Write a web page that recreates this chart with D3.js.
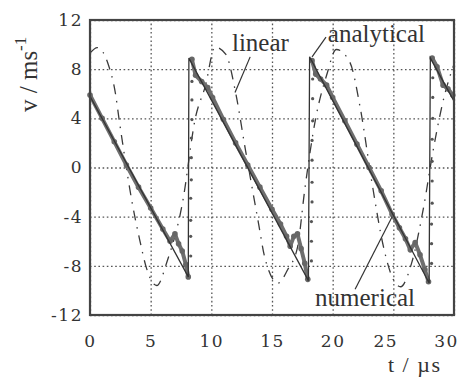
<!DOCTYPE html>
<html>
<head>
<meta charset="utf-8">
<script src="https://cdn.jsdelivr.net/npm/d3@7"></script>
<style>
  body { margin: 0; background: #fff; }
  svg text { font-family: "Liberation Serif", "Times New Roman", serif; fill: #333; }
  svg .tick text { font-family: "DejaVu Serif", serif; }
</style>
</head>
<body>
<div class="canvas"></div>
<script>
// data (t in µs, v in m/s)
const xTicks = [0, 5, 10, 15, 20, 25, 30];
const yTicks = [-12, -8, -4, 0, 4, 8, 12];

const analyticalT = [0, 8.1, 8.15, 18.0, 18.1, 27.95, 28.05, 30];
const analyticalV = [5.8, -8.9, 8.9, -9.2, 9.0, -9.4, 8.9, 5.4];

// numerical result, one array per branch between jumps
const numericalT = [
  [0, 1, 2, 3, 4, 5, 6, 6.6, 7.0, 7.3, 7.6, 7.9, 8.1],
  [8.4, 8.7, 9.2, 9.7, 10.1, 11, 12, 13, 14, 15, 15.7, 16.2, 16.5, 16.8, 17.1, 17.4, 17.7, 17.95],
  [18.3, 18.6, 19.0, 19.5, 20.0, 21, 22, 23, 24, 24.9, 25.5, 26.0, 26.4, 26.8, 27.2, 27.6, 27.9],
  [28.2, 28.6, 29.1, 29.5, 29.9]
];
const numericalV = [
  [5.9, 4.0, 2.1, 0.2, -1.6, -3.3, -5.0, -6.0, -5.4, -6.2, -6.8, -7.9, -8.9],
  [8.8, 7.5, 7.0, 6.5, 5.7, 3.9, 2.0, 0.2, -1.6, -3.4, -4.6, -5.6, -6.4, -5.6, -5.4, -6.6, -7.8, -9.1],
  [8.7, 7.6, 7.2, 6.7, 5.7, 3.8, 1.9, 0.0, -1.9, -3.8, -4.9, -5.8, -6.7, -6.1, -7.1, -8.3, -9.3],
  [8.9, 8.2, 6.7, 6.4, 5.9]
];
// numerical points during the jumps
const jumpT = [8.3, 8.3, 8.3, 8.3, 8.35, 8.35, 8.35, 8.4, 8.4, 8.4,
               18.25, 18.25, 18.25, 18.3, 18.3, 18.3, 18.3, 18.35, 18.35, 18.35,
               28.15, 28.15, 28.15, 28.2, 28.2, 28.2, 28.2, 28.25, 28.25, 28.25];
const jumpV = [-7.2, -5.6, -4.3, -2.5, -1.0, 0.8, 2.4, 3.9, 5.5, 7.0,
               -7.6, -6.0, -4.4, -2.8, -1.2, 0.6, 2.2, 3.8, 5.6, 7.2,
               -7.8, -6.2, -4.6, -2.9, -1.1, 0.5, 2.3, 4.0, 5.7, 7.3];

const linearT = [0, 0.6, 1.5, 2.1, 2.4, 2.7, 3.5, 4.1, 4.6, 5.5, 6.4, 7.6, 8.7, 9.5, 10.3, 11.2, 12.0, 12.8, 13.9, 14.4, 15.5, 16.3, 17.1, 17.7, 18.6, 19.5, 20.3, 21.4, 22.3, 23.2, 24.2, 24.9, 25.6, 26.5, 27.5, 28.3, 29.2, 30];
const linearV = [9.3, 9.75, 8.4, 6.0, 3.9, 1.9, -3.0, -5.9, -8.0, -9.6, -7.5, -3.0, 4.1, 6.6, 9.8, 9.2, 6.1, 1.5, -4.6, -7.3, -9.4, -8.3, -6.5, -1.8, 4.0, 7.5, 9.6, 8.6, 4.7, -1.0, -6.5, -8.9, -9.7, -7.8, -3.2, 1.5, 5.8, 8.4];

const labelNames = ['linear', 'analytical', 'numerical'];
const labelAt = [[11.7, 9.45], [19.6, 10.25], [18.55, -11.3]];
const leaderFrom = [[13.2, 9.0], [19.45, 10.6], [21.85, -9.9]];
const leaderTo = [[11.95, 6.1], [18.3, 9.0], [24.9, -4.0]];

// layout
const width = 464, height = 380;
const margin = {top: 20, right: 10, bottom: 65, left: 90};
const graphWidth = width - margin.left - margin.right;
const graphHeight = height - margin.top - margin.bottom;

const svg = d3.select('.canvas')
    .append('svg')
    .attr('width', width)
    .attr('height', height);

const graph = svg.append('g')
    .attr('transform', `translate(${margin.left}, ${margin.top})`);

const x = d3.scaleLinear().domain([0, 30]).range([0, graphWidth]);
const y = d3.scaleLinear().domain([-12, 12]).range([graphHeight, 0]);

// axes double as dotted grid; plain hyphen for negatives like the original
const xAxisGroup = graph.append('g')
    .attr('transform', `translate(0, ${graphHeight})`)
    .call(d3.axisBottom(x).tickValues(xTicks).tickSize(-graphHeight).tickPadding(20)
        .tickFormat(d => String(d)));
const yAxisGroup = graph.append('g')
    .call(d3.axisLeft(y).tickValues(yTicks).tickSize(-graphWidth).tickPadding(7)
        .tickFormat(d => String(d)));

[xAxisGroup, yAxisGroup].forEach(g => {
  g.attr('font-family', null).attr('font-size', null);
  g.select('.domain').remove();
  g.selectAll('line')
      .attr('stroke', '#555')
      .attr('stroke-width', 1.3)
      .attr('stroke-dasharray', '1.6,2.6');
  g.selectAll('text')
      .attr('fill', '#333')
      .style('font-size', '17px')
      .style('letter-spacing', '1.5px');
});
// the scanned labels drift a little left of their grid lines
xAxisGroup.selectAll('text').attr('dx', d => d >= 25 ? -8 : 0);

const line = d3.line()
    .x(d => x(d[0]))
    .y(d => y(d[1]));

const zip = (a, b) => a.map((t, i) => [t, b[i]]);

// linear model
graph.append('path')
    .attr('d', line.curve(d3.curveMonotoneX)(zip(linearT, linearV)))
    .attr('fill', 'none')
    .attr('stroke', '#3a3a3a')
    .attr('stroke-width', 1.3)
    .attr('stroke-dasharray', '10,7,1.5,7');

// numerical
numericalT.forEach((ts, k) => {
  const pts = zip(ts, numericalV[k]);
  graph.append('path')
      .attr('d', line.curve(d3.curveLinear)(pts))
      .attr('fill', 'none')
      .attr('stroke', '#6e6e6e')
      .attr('stroke-width', 4)
      .attr('stroke-linejoin', 'round');
  graph.selectAll(null)
      .data(pts)
      .enter()
      .append('circle')
      .attr('cx', d => x(d[0]))
      .attr('cy', d => y(d[1]))
      .attr('r', 2.8)
      .attr('fill', '#666');
});
graph.selectAll(null)
    .data(zip(jumpT, jumpV))
    .enter()
    .append('circle')
    .attr('cx', d => x(d[0]))
    .attr('cy', d => y(d[1]))
    .attr('r', 1.6)
    .attr('fill', '#555');

// analytical
graph.append('path')
    .attr('d', line.curve(d3.curveLinear)(zip(analyticalT, analyticalV)))
    .attr('fill', 'none')
    .attr('stroke', '#333')
    .attr('stroke-width', 1.3);

// labels + leaders
labelNames.forEach((name, i) => {
  graph.append('line')
      .attr('x1', x(leaderFrom[i][0])).attr('y1', y(leaderFrom[i][1]))
      .attr('x2', x(leaderTo[i][0])).attr('y2', y(leaderTo[i][1]))
      .attr('stroke', '#333')
      .attr('stroke-width', 1.2);
  graph.append('text')
      .attr('x', x(labelAt[i][0]))
      .attr('y', y(labelAt[i][1]))
      .style('font-size', '25px')
      .text(name);
});

// frame
graph.append('rect')
    .attr('width', graphWidth)
    .attr('height', graphHeight)
    .attr('fill', 'none')
    .attr('stroke', '#444')
    .attr('stroke-width', 2.2);

// axis titles
svg.append('text')
    .attr('x', 388)
    .attr('y', 372)
    .style('font-size', '22px')
    .style('letter-spacing', '1.5px')
    .text('t / µs');

const yTitle = svg.append('text')
    .attr('transform', 'translate(37, 112) rotate(-90)')
    .style('font-size', '25px');
yTitle.append('tspan').text('v / ms');
yTitle.append('tspan')
    .attr('dy', -11)
    .style('font-size', '17px')
    .text('-1');
</script>
</body>
</html>
